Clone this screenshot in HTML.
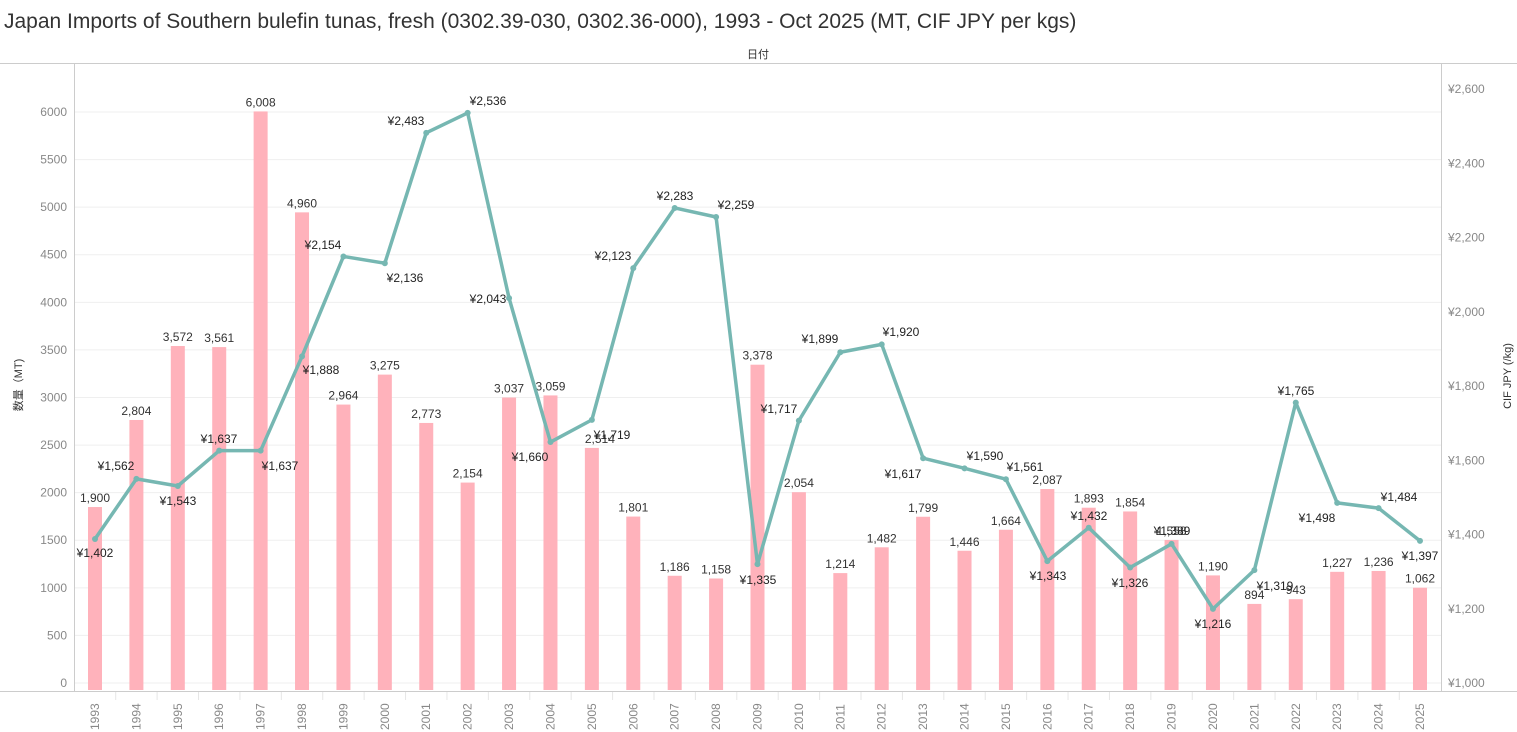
<!DOCTYPE html>
<html><head><meta charset="utf-8"><style>
body{margin:0;background:#fff;}
svg{display:block;font-family:"Liberation Sans","Noto Sans CJK JP",sans-serif;}
</style></head><body>
<svg id="c" width="1517" height="732" xmlns="http://www.w3.org/2000/svg"></svg>
<script>
const vol=[1900,2804,3572,3561,6008,4960,2964,3275,2773,2154,3037,3059,2514,1801,1186,1158,3378,2054,1214,1482,1799,1446,1664,2087,1893,1854,1558,1190,894,943,1227,1236,1062];
const pr=[1402,1562,1543,1637,1637,1888,2154,2136,2483,2536,2043,1660,1719,2123,2283,2259,1335,1717,1899,1920,1617,1590,1561,1343,1432,1326,1389,1216,1319,1765,1498,1484,1397];
const pl=[[95,553],[116,466],[178,501],[219,439],[280,466],[321,370],[323,245],[405,278],[406,121],[488,101],[488,299],[530,457],[612,435],[613,256],[675,196],[736,205],[758,580],[779,409],[820,339],[901,332],[903,474],[985,456],[1025,467],[1048,576],[1089,516],[1130,583],[1172,531],[1213,624],[1275,586],[1296,391],[1317,518],[1399,497],[1420,556]];
const X=i=>95+i*41.406, YL=v=>690-v*0.0963, YR=v=>690-(v-1000)*0.3757;
let s='';
s+='<text x="4" y="28" font-size="21" fill="#333">Japan Imports of Southern bulefin tunas, fresh (0302.39-030, 0302.36-000), 1993 - Oct 2025 (MT, CIF JPY per kgs)</text>';
s+='<text x="758" y="58" font-size="11" fill="#333" text-anchor="middle">日付</text>';
s+='<line x1="0" y1="63.5" x2="1517" y2="63.5" stroke="#ccc"/>';
for(let v=0;v<=6000;v+=500){const y=YL(v), ly=683-v*0.09517;
 s+=`<line x1="75" y1="${ly}" x2="1441" y2="${ly}" stroke="#efefef"/>`;
 s+=`<text x="67" y="${ly+4}" font-size="12" fill="#888" text-anchor="end">${v}</text>`;}
for(let v=1000;v<=2600;v+=200){const y=683-(v-1000)*0.37125;
 s+=`<text x="1448" y="${y+4}" font-size="12" fill="#888">¥${v.toLocaleString('en-US')}</text>`;}
s+='<line x1="74.5" y1="63" x2="74.5" y2="691" stroke="#ccc"/><line x1="1441.5" y1="63" x2="1441.5" y2="691" stroke="#ccc"/><line x1="0" y1="691.5" x2="1517" y2="691.5" stroke="#ccc"/>';
s+='<text transform="translate(22,385) rotate(-90)" font-size="11" fill="#333" text-anchor="middle">数量（MT)</text>';
s+='<text transform="translate(1511,376) rotate(-90)" font-size="11" fill="#333" text-anchor="middle">CIF JPY (/kg)</text>';
vol.forEach((v,i)=>{const x=X(i),y=YL(v);
 s+=`<rect x="${x-7}" y="${y}" width="14" height="${690-y}" fill="#ffb2bb"/>`;
 let lx=x; if(i==12)lx=x+8;
 s+=`<text x="${lx}" y="${y-5}" font-size="12" fill="#333" text-anchor="middle">${v.toLocaleString('en-US')}</text>`;
 s+=`<text transform="translate(${x+4},730) rotate(-90)" font-size="12" fill="#888">${1993+i}</text>`;
 if(i>0)s+=`<line x1="${x-20.7}" y1="692" x2="${x-20.7}" y2="700" stroke="#e6e6e6"/>`;});
s+=`<polyline fill="none" stroke="#76b7b2" stroke-width="3.5" stroke-linejoin="round" points="${pr.map((v,i)=>X(i)+','+YR(v)).join(' ')}"/>`;
pr.forEach((v,i)=>{s+=`<circle cx="${X(i)}" cy="${YR(v)}" r="3" fill="#76b7b2"/>`;
 s+=`<text x="${pl[i][0]}" y="${pl[i][1]+4}" font-size="12" fill="#222" text-anchor="middle">¥${v.toLocaleString('en-US')}</text>`;});
document.getElementById('c').innerHTML=s;
</script>
</body></html>
